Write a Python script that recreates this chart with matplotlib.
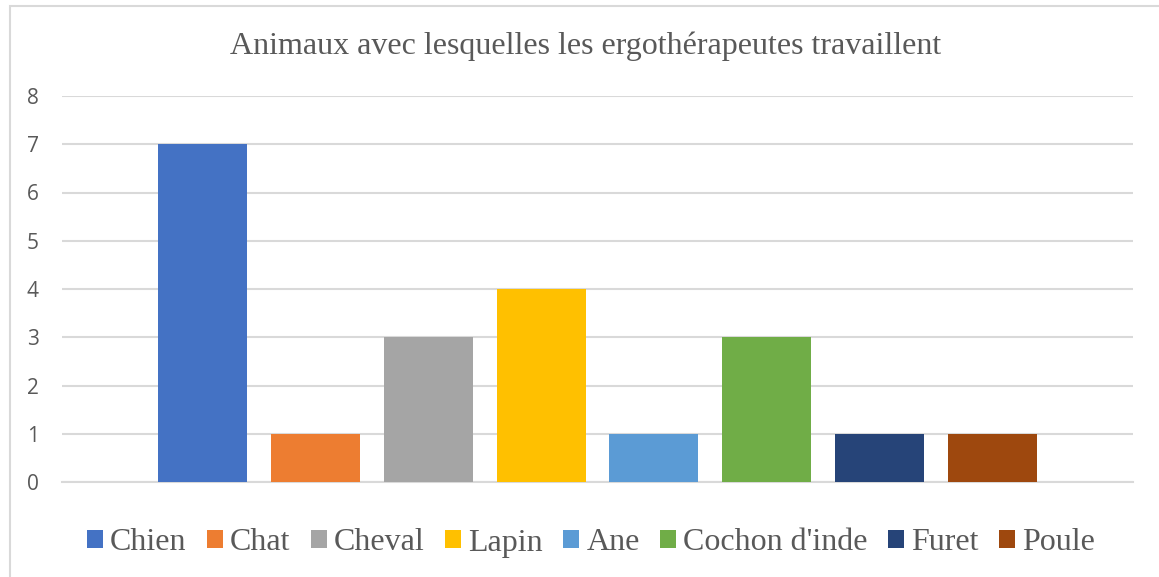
import matplotlib
matplotlib.use("Agg")
import matplotlib.pyplot as plt
from matplotlib.patches import Rectangle, Patch

categories = ["Chien", "Chat", "Cheval", "Lapin", "Ane", "Cochon d'inde", "Furet", "Poule"]
values = [7, 1, 3, 4, 1, 3, 1, 1]
colors = ["#4472C4", "#ED7D31", "#A5A5A5", "#FFC000", "#5B9BD5", "#70AD47", "#264478", "#9E480E"]
yticks = [0, 1, 2, 3, 4, 5, 6, 7, 8]
title = "Animaux avec lesquelles les ergothérapeutes travaillent"

W, H = 1159, 577
fig = plt.figure(figsize=(W / 100, H / 100), dpi=100)
ax = fig.add_axes([62 / W, 1 - 482 / H, (1133 - 62) / W, (482 - 96) / H])

grid_c = "#D9D9D9"
text_c = "#595959"

for i, (cat, v, c) in enumerate(zip(categories, values, colors)):
    ax.bar(i, v, width=0.79, color=c, label=cat, zorder=3)

ax.set_xlim(-1.247, len(categories) - 1 + 1.247)
ax.set_ylim(0, 8)
ax.set_yticks(yticks)
ax.set_yticklabels([str(t) for t in yticks], fontfamily="Open Sans", fontsize=15, color=text_c)
ax.set_xticks([])
for t in ax.get_yticklabels():
    t.set_horizontalalignment("center")
ax.tick_params(axis="y", length=0, pad=21)
for s in ["top", "right", "left"]:
    ax.spines[s].set_visible(False)
ax.spines["bottom"].set_color(grid_c)
ax.spines["bottom"].set_linewidth(1.5)
ax.grid(axis="y", color=grid_c, linewidth=1.5, zorder=0)
ax.set_axisbelow(True)

fig.text(586 / W, 1 - 46 / H, title, ha="center", va="center",
         fontfamily="Liberation Serif", fontsize=23, color=text_c)

handles = [Patch(facecolor=c, edgecolor="none") for c in colors]
leg = fig.legend(handles, categories, loc="center", bbox_to_anchor=(591 / W, 1 - 543 / H),
                 ncol=8, frameon=False, prop={"family": "Liberation Serif", "size": 23},
                 handlelength=0.5, handleheight=0.5, handletextpad=0.22, columnspacing=0.64,
                 borderaxespad=0)
for t in leg.get_texts():
    t.set_color(text_c)

fig.patches.append(Rectangle((10 / W, -0.1), 1.2, 1 - 6 / H + 0.1, transform=fig.transFigure,
                             fill=False, edgecolor=grid_c, linewidth=1.5, zorder=0))

fig.savefig("out.png", dpi=100)
